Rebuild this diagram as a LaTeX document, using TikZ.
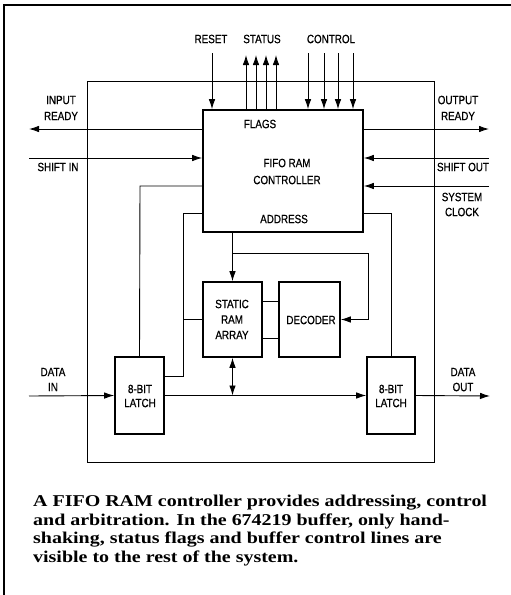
\documentclass[tikz,border=0pt]{standalone}
\usepackage{fontspec}
\usepackage{graphicx}
\usetikzlibrary{arrows.meta}
\newfontfamily\lblfont[FakeBold=0.8]{Liberation Sans}
\newfontfamily\capfont{Liberation Serif}
\newcommand{\lbltxt}[1]{\scalebox{0.82}[1]{#1}}
\newcommand{\captext}[1]{\scalebox{1.21}[1]{#1}}
\begin{document}
\begin{tikzpicture}[x=1pt,y=-1pt,
  lbl/.style={font=\lblfont\fontsize{12}{13}\selectfont, inner sep=0pt},
  blk/.style={draw, line width=1.6pt, inner sep=0pt},
  wire/.style={line width=0.9pt},
  arr/.style={wire, -{Latex[length=10pt,width=6.5pt]}},
  arrb/.style={wire, {Latex[length=10pt,width=6.5pt]}-{Latex[length=10pt,width=6.5pt]}},
  captxt/.style={font=\capfont\bfseries\fontsize{16.5}{18}\selectfont, inner sep=0pt, anchor=base west}
]
\useasboundingbox (0,0) rectangle (511,595);
% outer frame
\draw[line width=2pt] (4,595) -- (4,5) -- (511,5);
% inner frame
\node[draw, line width=1pt, minimum width=347pt, minimum height=381pt, inner sep=0pt] (frame) at (260.5,271.5) {};
% blocks
\node[blk, minimum width=160pt, minimum height=122pt] (ctrl) at (283,171) {};
\node[blk, minimum width=59pt, minimum height=75pt] (ram) at (232.5,319.5) {};
\node[blk, minimum width=61pt, minimum height=75pt] (dec) at (309.5,319.5) {};
\node[blk, minimum width=49pt, minimum height=77pt] (llatch) at (139.5,395.5) {};
\node[blk, minimum width=48pt, minimum height=77pt] (rlatch) at (391,395.5) {};
% labels in blocks
\node[lbl] (flags) at (260,124) {\lbltxt{FLAGS}};
\node[lbl] (fifo) at (287,163) {\lbltxt{FIFO RAM}};
\node[lbl] (ctl) at (287,180) {\lbltxt{CONTROLLER}};
\node[lbl] (addr) at (284,219) {\lbltxt{ADDRESS}};
\node[lbl] (st) at (232,304) {\lbltxt{STATIC}};
\node[lbl] (rm) at (232,319.5) {\lbltxt{RAM}};
\node[lbl] (ary) at (232,335) {\lbltxt{ARRAY}};
\node[lbl] (decl) at (311,320) {\lbltxt{DECODER}};
\node[lbl] (l1a) at (140,389) {\lbltxt{8-BIT}};
\node[lbl] (l1b) at (140,403) {\lbltxt{LATCH}};
\node[lbl] (l2a) at (391,389) {\lbltxt{8-BIT}};
\node[lbl] (l2b) at (391,403) {\lbltxt{LATCH}};
% outside labels
\node[lbl] (resetl) at (211,39) {\lbltxt{RESET}};
\node[lbl] (statusl) at (262,39) {\lbltxt{STATUS}};
\node[lbl] (controll) at (331,39) {\lbltxt{CONTROL}};
\node[lbl] (ir1) at (61,100) {\lbltxt{INPUT}};
\node[lbl] (ir2) at (61,116) {\lbltxt{READY}};
\node[lbl] (or1) at (458,100) {\lbltxt{OUTPUT}};
\node[lbl] (or2) at (458,116) {\lbltxt{READY}};
\node[lbl] (shinl) at (58,167) {\lbltxt{SHIFT IN}};
\node[lbl] (shoutl) at (463,167) {\lbltxt{SHIFT OUT}};
\node[lbl] (sc1) at (462,197) {\lbltxt{SYSTEM}};
\node[lbl] (sc2) at (462,212) {\lbltxt{CLOCK}};
\node[lbl] (di1) at (53,372) {\lbltxt{DATA}};
\node[lbl] (di2) at (53,387) {\lbltxt{IN}};
\node[lbl] (do1) at (463,372) {\lbltxt{DATA}};
\node[lbl] (do2) at (463,387) {\lbltxt{OUT}};
% top signals
\coordinate (rst) at (212,53);
\draw[arr] (rst) -- (rst |- ctrl.north);
\foreach \x [count=\i] in {246,256,266,276} {
  \coordinate (st\i) at (\x,55);
  \draw[arr] (st\i |- ctrl.north) -- (st\i);
}
\foreach \x [count=\i] in {308,324,338,353} {
  \coordinate (ct\i) at (\x,53);
  \draw[arr] (ct\i) -- (ct\i |- ctrl.north);
}
% side signals
\coordinate (inrdy) at (29,129);
\draw[arr] (inrdy -| ctrl.west) -- (inrdy);
\coordinate (shin) at (29,158);
\draw[arr] (shin) -- (shin -| ctrl.west);
\coordinate (outrdy) at (489,129);
\draw[arr] (outrdy -| ctrl.east) -- (outrdy);
\coordinate (shout) at (489,158);
\draw[arr] (shout) -- (shout -| ctrl.east);
\coordinate (sysclk) at (489,186);
\draw[arr] (sysclk) -- (sysclk -| ctrl.east);
% address
\draw[arr] (ram.north |- ctrl.south) -- (ram.north);
\coordinate (br) at (232.5,253);
\coordinate (bturn) at (368,253);
\draw[arr] (br) -- (bturn) |- (dec.east);
% ram-decoder
\draw[wire] ([yshift=18.5pt]ram.east) -- ([yshift=18.5pt]dec.west);
\draw[wire] ([yshift=-18.5pt]ram.east) -- ([yshift=-18.5pt]dec.west);
% latches to controller
\coordinate (c1) at (140,186);
\draw[wire] (llatch.north) -- (c1) -- (c1 -| ctrl.west);
\coordinate (c2a) at (183,376);
\coordinate (c2b) at (183,213);
\draw[wire] (c2a -| llatch.east) -- (c2a) -- (c2b) -- (c2b -| ctrl.west);
\draw[wire] (c2a |- ram.west) -- (ram.west);
\coordinate (c3) at (391,213);
\draw[wire] (rlatch.north) -- (c3) -- (c3 -| ctrl.east);
% data path
\coordinate (din) at (29,396);
\draw[arr] (din) -- (llatch.west);
\coordinate (dout) at (490,396);
\draw[arr] (rlatch.east) -- (dout);
\draw[arr] (llatch.east) -- (rlatch.west);
\draw[arrb] (ram.south) -- (ram.south |- llatch.east);
% caption
\node[captxt] (cap1) at (33,506) {\captext{A FIFO RAM controller provides addressing, control}};
\node[captxt] (cap2) at (33,525) {\captext{and arbitration. In the 674219 buffer, only hand-}};
\node[captxt] (cap3) at (33,543.5) {\captext{shaking, status flags and buffer control lines are}};
\node[captxt] (cap4) at (33,562) {\captext{visible to the rest of the system.}};
\end{tikzpicture}
\end{document}
